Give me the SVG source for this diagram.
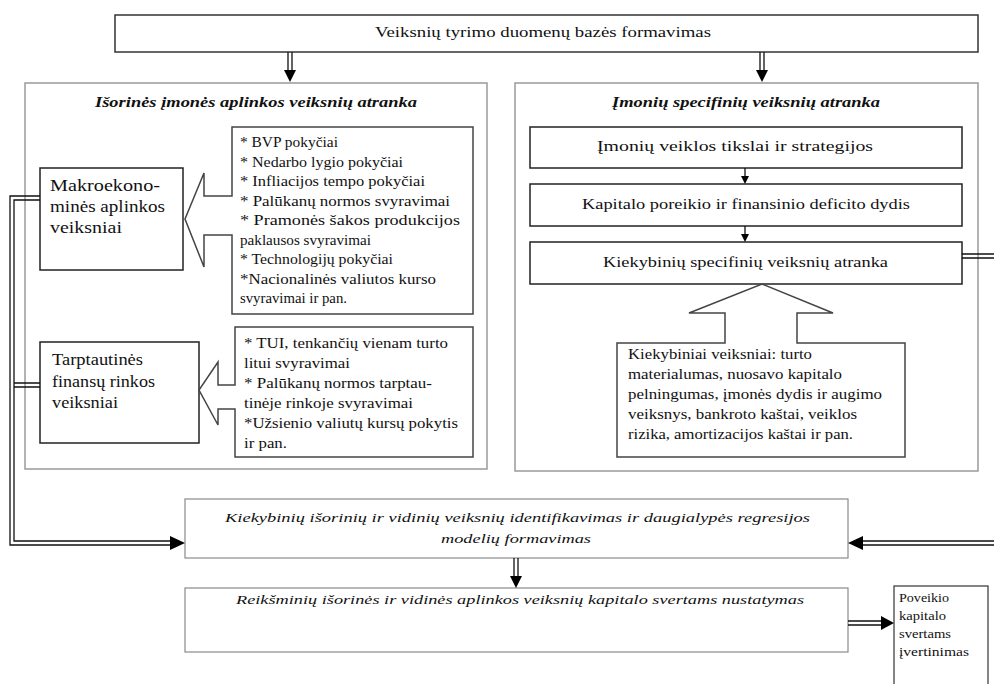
<svg xmlns="http://www.w3.org/2000/svg" width="994" height="684" viewBox="0 0 994 684">
<style>
text{font-family:"Liberation Serif","Times New Roman",serif;font-size:15px;fill:#111}
.t{font-style:italic;font-weight:bold}
.i{font-style:italic}
.big{font-size:16.5px}
.sm{font-size:13.5px}
.panel{fill:#fff;stroke:#9a9a9a;stroke-width:1.5}
.box{fill:#fff;stroke:#222;stroke-width:1.5}
.call{fill:#fff;stroke:#444;stroke-width:1.5}
.lbox{fill:#fff;stroke:#8a8a8a;stroke-width:1.2}
.dl{fill:none;stroke:#111;stroke-width:1.3}
.head{fill:#000}
</style>
<rect width="994" height="684" fill="#fff"/>

<g id="top">
<rect class="box" x="115" y="15" width="863" height="37" style="stroke:#333"/>
<text x="375" y="37" textLength="336" lengthAdjust="spacingAndGlyphs">Veiksnių tyrimo duomenų bazės formavimas</text>
</g>

<g id="panel-left">
<rect class="panel" x="25" y="83" width="462" height="386"/>
<text class="t" x="95" y="107" textLength="322" lengthAdjust="spacingAndGlyphs">Išorinės įmonės aplinkos veiksnių atranka</text>
</g>

<g id="panel-right">
<rect class="panel" x="515" y="83" width="463" height="388"/>
<text class="t" x="612" y="107" textLength="268" lengthAdjust="spacingAndGlyphs">Įmonių specifinių veiksnių atranka</text>
</g>

<g id="makro">
<rect class="box" x="40" y="168" width="143" height="102"/>
<text class="big" x="50" y="191" textLength="110" lengthAdjust="spacingAndGlyphs">Makroekono-</text>
<text class="big" x="50" y="212" textLength="115" lengthAdjust="spacingAndGlyphs">minės aplinkos</text>
<text class="big" x="50" y="233" textLength="72" lengthAdjust="spacingAndGlyphs">veiksniai</text>
</g>

<g id="makro-list">
<path class="call" d="M232,127 H473 V314 H232 V235 H204 V267 L185,219 L204,173 V196 H232 Z"/>
<text x="240" y="147" textLength="98" lengthAdjust="spacingAndGlyphs">* BVP pokyčiai</text>
<text x="240" y="166.5" textLength="163" lengthAdjust="spacingAndGlyphs">* Nedarbo lygio pokyčiai</text>
<text x="240" y="186" textLength="185" lengthAdjust="spacingAndGlyphs">* Infliacijos tempo pokyčiai</text>
<text x="240" y="205.5" textLength="210" lengthAdjust="spacingAndGlyphs">* Palūkanų normos svyravimai</text>
<text x="240" y="225" textLength="220" lengthAdjust="spacingAndGlyphs">* Pramonės šakos  produkcijos</text>
<text x="240" y="244.5" textLength="131" lengthAdjust="spacingAndGlyphs">paklausos svyravimai</text>
<text x="240" y="264" textLength="153" lengthAdjust="spacingAndGlyphs">* Technologijų pokyčiai</text>
<text x="240" y="283.5" textLength="196" lengthAdjust="spacingAndGlyphs">*Nacionalinės valiutos kurso</text>
<text x="240" y="303" textLength="107" lengthAdjust="spacingAndGlyphs">svyravimai ir pan.</text>
</g>

<g id="tarpt">
<rect class="box" x="40" y="342" width="159" height="101"/>
<text class="big" x="52" y="365" textLength="91" lengthAdjust="spacingAndGlyphs">Tarptautinės</text>
<text class="big" x="52" y="387" textLength="103" lengthAdjust="spacingAndGlyphs">finansų rinkos</text>
<text class="big" x="52" y="408" textLength="66" lengthAdjust="spacingAndGlyphs">veiksniai</text>
</g>

<g id="tarpt-list">
<path class="call" d="M235,327 H473 V457 H235 V409 H218 V425 L199,390 L218,362 V385 H235 Z"/>
<text x="244" y="348" textLength="204" lengthAdjust="spacingAndGlyphs">* TUI, tenkančių vienam turto</text>
<text x="244" y="368" textLength="106" lengthAdjust="spacingAndGlyphs">litui svyravimai</text>
<text x="244" y="388" textLength="188" lengthAdjust="spacingAndGlyphs">* Palūkanų normos tarptau-</text>
<text x="244" y="408" textLength="169" lengthAdjust="spacingAndGlyphs">tinėje rinkoje svyravimai</text>
<text x="244" y="428" textLength="214" lengthAdjust="spacingAndGlyphs">*Užsienio valiutų kursų pokytis</text>
<text x="244" y="448" textLength="43" lengthAdjust="spacingAndGlyphs">ir pan.</text>
</g>

<g id="tikslai">
<rect class="box" x="530" y="127" width="432" height="41"/>
<text x="597" y="151" textLength="276" lengthAdjust="spacingAndGlyphs">Įmonių veiklos tikslai ir strategijos</text>
</g>
<g id="poreikis">
<rect class="box" x="530" y="184" width="432" height="42"/>
<text x="582" y="209" textLength="328" lengthAdjust="spacingAndGlyphs">Kapitalo poreikio ir finansinio deficito dydis</text>
</g>
<g id="atranka">
<rect class="box" x="530" y="242" width="432" height="42"/>
<text x="603" y="267" textLength="285" lengthAdjust="spacingAndGlyphs">Kiekybinių specifinių veiksnių atranka</text>
</g>

<g id="kiekybiniai">
<path class="call" d="M617,343 H725 V313 H689 L762,284 L833,313 H797 V343 H905 V457 H617 Z"/>
<text x="628" y="359" textLength="184" lengthAdjust="spacingAndGlyphs">Kiekybiniai veiksniai: turto</text>
<text x="628" y="379" textLength="214" lengthAdjust="spacingAndGlyphs">materialumas, nuosavo kapitalo</text>
<text x="628" y="399" textLength="254" lengthAdjust="spacingAndGlyphs">pelningumas, įmonės dydis ir augimo</text>
<text x="628" y="418.5" textLength="229" lengthAdjust="spacingAndGlyphs">veiksnys, bankroto kaštai, veiklos</text>
<text x="628" y="438.5" textLength="225" lengthAdjust="spacingAndGlyphs">rizika, amortizacijos kaštai ir pan.</text>
</g>

<g id="identifikavimas">
<rect class="lbox" x="185" y="499" width="663" height="59"/>
<text class="i sm" x="225" y="522" textLength="585" lengthAdjust="spacingAndGlyphs">Kiekybinių išorinių ir vidinių veiksnių identifikavimas ir daugialypės regresijos</text>
<text class="i sm" x="441" y="543" textLength="150" lengthAdjust="spacingAndGlyphs">modelių formavimas</text>
</g>

<g id="reiksminiu">
<rect class="lbox" x="185" y="588" width="663" height="64"/>
<text class="i sm" x="236" y="604" textLength="568" lengthAdjust="spacingAndGlyphs">Reikšminių išorinės ir vidinės aplinkos veiksnių kapitalo svertams nustatymas</text>
</g>

<g id="poveikio">
<rect x="894" y="586" width="94" height="110" fill="#fff" stroke="#333" stroke-width="1.2"/>
<text class="sm" x="899" y="602" textLength="50" lengthAdjust="spacingAndGlyphs">Poveikio</text>
<text class="sm" x="899" y="620" textLength="47" lengthAdjust="spacingAndGlyphs">kapitalo</text>
<text class="sm" x="899" y="638" textLength="52" lengthAdjust="spacingAndGlyphs">svertams</text>
<text class="sm" x="899" y="656" textLength="70" lengthAdjust="spacingAndGlyphs">įvertinimas</text>
</g>

<g id="connectors">
<path class="dl" d="M288,52 V71 M292,52 V71"/>
<polygon class="head" points="284,70 296,70 290,82"/>
<path class="dl" d="M760,52 V71 M764,52 V71"/>
<polygon class="head" points="756,70 768,70 762,82"/>
<path class="dl" d="M745,168 V177 M745,226 V235"/>
<polygon class="head" points="741,176 749,176 745,184"/>
<polygon class="head" points="741,234 749,234 745,242"/>
<path class="dl" d="M40,196 H10 V545 H172"/>
<path class="dl" d="M40,200 H14 V541 H172"/>
<path class="dl" d="M14,383 H40 M14,387 H40"/>
<polygon class="head" points="170,536 170,550 185,543"/>
<path class="dl" d="M962,254 H994 M962,258 H994"/>
<path class="dl" d="M994,541 H862 M994,545 H862"/>
<polygon class="head" points="863,536 863,550 848,543"/>
<path class="dl" d="M514,558 V577 M518,558 V577"/>
<polygon class="head" points="510,576 522,576 516,588"/>
<path class="dl" d="M848,621 H882 M848,625 H882"/>
<polygon class="head" points="881,616 881,630 894,623"/>
</g>
</svg>
